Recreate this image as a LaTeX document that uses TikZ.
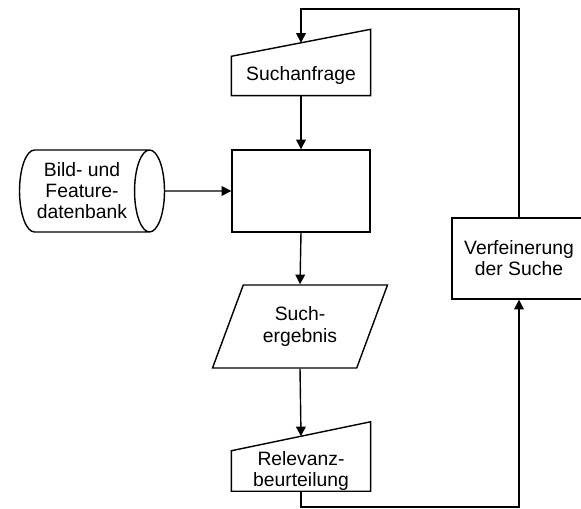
\documentclass[tikz,border=0pt]{standalone}
\usepackage{fontspec}
\setmainfont{Liberation Sans}
\usetikzlibrary{shapes.geometric,arrows.meta,calc}
\tikzset{
    plain-box/.style = {draw, rectangle, minimum width=2.76cm, minimum height=1.64cm, align=center, inner sep=2pt},
    store-box/.style = {draw, cylinder, aspect=0.5, minimum height=2.9cm, minimum width=1.64cm, align=center, inner sep=1pt},
    io-box/.style = {draw, trapezium, trapezium left angle=63.7, trapezium right angle=116.3, trapezium stretches=true, minimum width=3.52cm, minimum height=1.66cm, align=center, inner sep=1pt},
    manual-box/.style = {rectangle, minimum width=2.76cm, minimum height=0.76cm, align=center, inner sep=0pt},
    flow-arrow/.style = {-{Triangle[length=5.5pt,width=5.5pt]}},
}

\begin{document}
\begin{tikzpicture}[x=0.02cm, y=-0.02cm, line width=0.8pt, font=\fontsize{11}{12}\selectfont]
\useasboundingbox (0,0) rectangle (581,509);
\clip (0,0) rectangle (581,509);

% main column
\node [manual-box] (query) at (301,76) {Suchanfrage};
\draw (query.south west) -- (query.south east) -- ([yshift=0.54cm]query.north east) -- (query.north west) -- cycle;
\coordinate (query-in) at ($(query.north west)!0.5!([yshift=0.54cm]query.north east)$);

\node [plain-box] (search) at (301,191) {};
\node [store-box] (db) at (82,191) {Bild- und\\Feature-\\datenbank};
\node [io-box] (result) at (300,326.5) {Such-\\ergebnis};

\node [manual-box] (rating) at (301,471) {Relevanz-\\beurteilung};
\draw (rating.south west) -- (rating.south east) -- ([yshift=0.58cm]rating.north east) -- (rating.north west) -- cycle;
\coordinate (rating-in) at ($(rating.north west)!0.5!([yshift=0.58cm]rating.north east)$);

% feedback
\node [plain-box, minimum width=2.68cm, minimum height=1.62cm] (refine) at (519,258.5) {Verfeinerung\\der Suche};
\coordinate (top) at (0,9);
\coordinate (bottom) at (0,507);

\draw [flow-arrow] (query.south) -- (search.north);
\draw [flow-arrow] (db.east) -- (search.west);
\draw [flow-arrow] (search.south) -- (result.north);
\draw [flow-arrow] (result.south) -- (rating-in);
\draw [flow-arrow] (rating.south) -- (rating.south |- bottom) -| (refine.south);
\draw [flow-arrow] (refine.north) -- (refine.north |- top) -| (query-in);
\end{tikzpicture}
\end{document}
